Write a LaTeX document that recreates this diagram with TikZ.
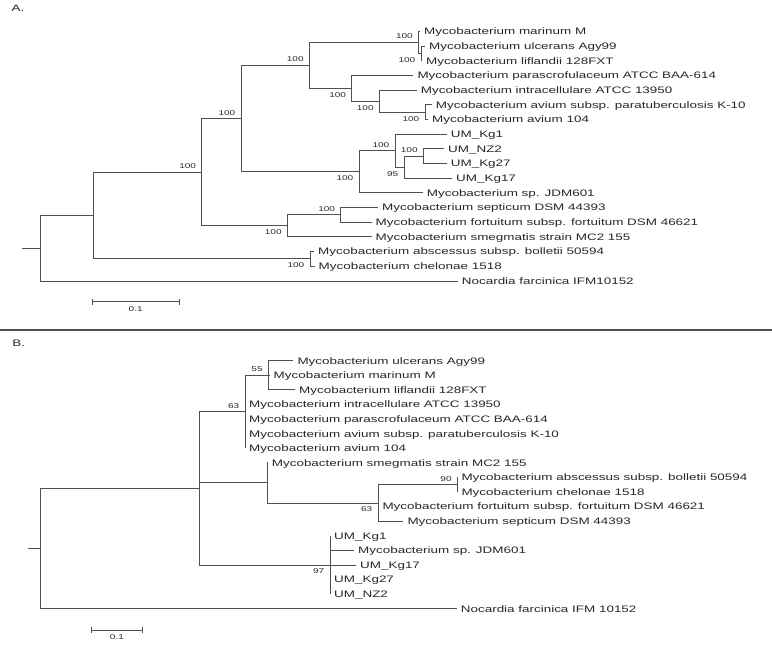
\documentclass[tikz,border=0pt]{standalone}
\usepackage{fontspec}
\setmainfont{Liberation Sans}[FakeStretch=1.43]
\definecolor{ln}{RGB}{80,80,80}
\definecolor{tx}{RGB}{40,40,40}
\tikzset{
  br/.style={draw=ln, line width=0.9pt},
  leaf/.style={anchor=west, inner xsep=4pt, inner ysep=0pt, text height=6.7pt, text depth=0pt, text=tx, font=\fontsize{9.4}{11}\selectfont},
  lab/.style={inner sep=0pt, text height=5pt, text depth=0pt, text=tx, font=\fontsize{7}{8}\selectfont},
  labu/.style={lab, anchor=east, xshift=-5.5pt, yshift=6pt},
  labd/.style={lab, anchor=east, xshift=-5.5pt, yshift=-6.5pt},
  panel/.style={anchor=base west, inner sep=0pt, text=tx, font=\fontsize{9.4}{11}\selectfont},
  sep/.style={draw=ln, line width=1.4pt}
}
\begin{document}
\begin{tikzpicture}[x=1pt, y=-1pt]
\fill[white] (0,0) rectangle (772,665);
\useasboundingbox (0,0) rectangle (772,665);

% ---------------- Panel A ----------------
\node[panel] (pA) at (11.5,11.8) {A.};

\coordinate (stA) at (22,248.28);
\coordinate (rA) at (40,248.28);
\coordinate (A1) at (93.3,215.59);
\coordinate (A2) at (201.7,172.24);
\coordinate (Aab) at (310,258.94);
\coordinate (A3) at (241,118.57);
\coordinate (AF) at (287.3,225.91);
\coordinate (AS) at (340.7,214.90);
\coordinate (A4) at (309.3,65.35);
\coordinate (AU) at (359,171.78);
\coordinate (AU1) at (395,150.68);
\coordinate (AU2) at (404,167.19);
\coordinate (AU3) at (423.3,156.18);
\coordinate (AM) at (418.5,42.41);
\coordinate (AUL) at (421,53.42);
\coordinate (AC) at (351.7,88.29);
\coordinate (AI) at (379.3,101.13);
\coordinate (AV) at (425,112.14);

\node[leaf] (mA0) at (420,31.40) {Mycobacterium marinum M};
\node[leaf] (mA1) at (425,46.08) {Mycobacterium ulcerans Agy99};
\node[leaf] (mA2) at (422,60.76) {Mycobacterium liflandii 128FXT};
\node[leaf] (mA3) at (413.3,75.44) {Mycobacterium parascrofulaceum ATCC BAA-614};
\node[leaf] (mA4) at (416.7,90.12) {Mycobacterium intracellulare ATCC 13950};
\node[leaf] (mA5) at (431.7,104.80) {Mycobacterium avium subsp. paratuberculosis K-10};
\node[leaf] (mA6) at (428,119.48) {Mycobacterium avium 104};
\node[leaf] (mA7) at (446.7,134.16) {UM\_Kg1};
\node[leaf] (mA8) at (444,148.84) {UM\_NZ2};
\node[leaf] (mA9) at (446.7,163.52) {UM\_Kg27};
\node[leaf] (mA10) at (452,178.20) {UM\_Kg17};
\node[leaf] (mA11) at (422.7,192.88) {Mycobacterium sp. JDM601};
\node[leaf] (mA12) at (378,207.56) {Mycobacterium septicum DSM 44393};
\node[leaf] (mA13) at (371.5,222.24) {Mycobacterium fortuitum subsp. fortuitum DSM 46621};
\node[leaf] (mA14) at (371.5,236.92) {Mycobacterium smegmatis strain MC2 155};
\node[leaf] (mA15) at (314,251.60) {Mycobacterium abscessus subsp. bolletii 50594};
\node[leaf] (mA16) at (314.5,266.28) {Mycobacterium chelonae 1518};
\node[leaf] (mA17) at (457.7,280.96) {Nocardia farcinica IFM10152};

\draw[br] (stA) -- (rA);
\draw[br] (rA) |- (A1);
\draw[br] (rA) |- (mA17.west);
\draw[br] (A1) |- (A2);
\draw[br] (A1) |- (Aab);
\draw[br] (Aab) |- (mA15.west);
\draw[br] (Aab) |- (mA16.west);
\draw[br] (A2) |- (A3);
\draw[br] (A2) |- (AF);
\draw[br] (AF) |- (AS);
\draw[br] (AF) |- (mA14.west);
\draw[br] (AS) |- (mA12.west);
\draw[br] (AS) |- (mA13.west);
\draw[br] (A3) |- (A4);
\draw[br] (A3) |- (AU);
\draw[br] (A4) |- (AM);
\draw[br] (A4) |- (AC);
\draw[br] (AM) |- (mA0.west);
\draw[br] (AM) |- (AUL);
\draw[br] (AUL) |- (mA1.west);
\draw[br] (AUL) |- (mA2.west);
\draw[br] (AC) |- (mA3.west);
\draw[br] (AC) |- (AI);
\draw[br] (AI) |- (mA4.west);
\draw[br] (AI) |- (AV);
\draw[br] (AV) |- (mA5.west);
\draw[br] (AV) |- (mA6.west);
\draw[br] (AU) |- (AU1);
\draw[br] (AU) |- (mA11.west);
\draw[br] (AU1) |- (mA7.west);
\draw[br] (AU1) |- (AU2);
\draw[br] (AU2) |- (AU3);
\draw[br] (AU2) |- (mA10.west);
\draw[br] (AU3) |- (mA8.west);
\draw[br] (AU3) |- (mA9.west);

\node[labu] (lA2) at (A2) {100};
\node[labu] (lA3) at (A3) {100};
\node[labd] (lAF) at (AF) {100};
\node[labu] (lA4) at (A4) {100};
\node[labd] (lAU) at (AU) {100};
\node[labu] (lAM) at (AM) {100};
\node[labd] (lAUL) at (AUL) {100};
\node[labd] (lAC) at (AC) {100};
\node[labd] (lAI) at (AI) {100};
\node[labd] (lAV) at (AV) {100};
\node[labu] (lAU1) at (AU1) {100};
\node[labd] (lAU2) at (AU2) {95};
\node[labu] (lAU3) at (AU3) {100};
\node[labu] (lAS) at (AS) {100};
\node[labd] (lAab) at (Aab) {100};

\coordinate (sa1) at (92.3,301.7);
\coordinate (sa2) at (179,301.7);
\draw[br] (sa1) -- (sa2);
\draw[br] ([yshift=3pt]sa1) -- ([yshift=-3pt]sa1);
\draw[br] ([yshift=3pt]sa2) -- ([yshift=-3pt]sa2);
\node[lab] (sAl) at (135.7,308.5) {0.1};

% ---------------- separator ----------------
\coordinate (sepL) at (0,330);
\coordinate (sepR) at (772,330);
\draw[sep] (sepL) -- (sepR);

% ---------------- Panel B ----------------
\node[panel] (pB) at (12.2,346) {B.};

\coordinate (stB) at (28.3,548.55);
\coordinate (rB) at (40,548.55);
\coordinate (Bn) at (199,488.37);
\coordinate (B63) at (245,411.77);
\coordinate (B55) at (268.3,375.29);
\coordinate (BSm) at (267.3,482.89);
\coordinate (B63b) at (378,502.95);
\coordinate (B90) at (457.3,484.7);
\coordinate (BUM) at (330,564.96);

\node[leaf] (mB0) at (293.3,360.70) {Mycobacterium ulcerans Agy99};
\node[leaf] (mB1) at (269.5,375.29) {Mycobacterium marinum M};
\node[leaf] (mB2) at (295,389.88) {Mycobacterium liflandii 128FXT};
\node[leaf] (mB3) at (245,404.47) {Mycobacterium intracellulare ATCC 13950};
\node[leaf] (mB4) at (245,419.06) {Mycobacterium parascrofulaceum ATCC BAA-614};
\node[leaf] (mB5) at (245,433.65) {Mycobacterium avium subsp. paratuberculosis K-10};
\node[leaf] (mB6) at (245,448.24) {Mycobacterium avium 104};
\node[leaf] (mB7) at (267.7,462.83) {Mycobacterium smegmatis strain MC2 155};
\node[leaf] (mB8) at (457.3,477.42) {Mycobacterium abscessus subsp. bolletii 50594};
\node[leaf] (mB9) at (457.3,492.01) {Mycobacterium chelonae 1518};
\node[leaf] (mB10) at (378.3,506.60) {Mycobacterium fortuitum subsp. fortuitum DSM 46621};
\node[leaf] (mB11) at (403.3,521.19) {Mycobacterium septicum DSM 44393};
\node[leaf] (mB12) at (330,535.78) {UM\_Kg1};
\node[leaf] (mB13) at (354,550.37) {Mycobacterium sp. JDM601};
\node[leaf] (mB14) at (356,564.96) {UM\_Kg17};
\node[leaf] (mB15) at (330,579.55) {UM\_Kg27};
\node[leaf] (mB16) at (330,594.14) {UM\_NZ2};
\node[leaf] (mB17) at (456.7,608.73) {Nocardia farcinica IFM 10152};

\draw[br] (stB) -- (rB);
\draw[br] (rB) |- (Bn);
\draw[br] (rB) |- (mB17.west);
\draw[br] (Bn) |- (B63);
\draw[br] (Bn) |- (BSm);
\draw[br] (Bn) |- (BUM);
\draw[br] (B63) |- (B55);
\draw[br] (B63) |- (mB3.west);
\draw[br] (B63) |- (mB4.west);
\draw[br] (B63) |- (mB5.west);
\draw[br] (B63) |- (mB6.west);
\draw[br] (B55) |- (mB0.west);
\draw[br] (B55) |- (mB1.west);
\draw[br] (B55) |- (mB2.west);
\draw[br] (BSm) |- (mB7.west);
\draw[br] (BSm) |- (B63b);
\draw[br] (B63b) |- (B90);
\draw[br] (B63b) |- (mB10.west);
\draw[br] (B63b) |- (mB11.west);
\draw[br] (B90) |- (mB8.west);
\draw[br] (B90) |- (mB9.west);
\draw[br] (BUM) |- (mB12.west);
\draw[br] (BUM) |- (mB13.west);
\draw[br] (BUM) |- (mB14.west);
\draw[br] (BUM) |- (mB15.west);
\draw[br] (BUM) |- (mB16.west);

\node[labu] (lB55) at (B55) {55};
\node[labu] (lB63) at (B63) {63};
\node[labu] (lB90) at (B90) {90};
\node[labd] (lB63b) at (B63b) {63};
\node[labd] (lBUM) at (BUM) {97};

\coordinate (sb1) at (91,630);
\coordinate (sb2) at (142.7,630);
\draw[br] (sb1) -- (sb2);
\draw[br] ([yshift=3pt]sb1) -- ([yshift=-3pt]sb1);
\draw[br] ([yshift=3pt]sb2) -- ([yshift=-3pt]sb2);
\node[lab] (sBl) at (116.9,636.7) {0.1};
\end{tikzpicture}
\end{document}
